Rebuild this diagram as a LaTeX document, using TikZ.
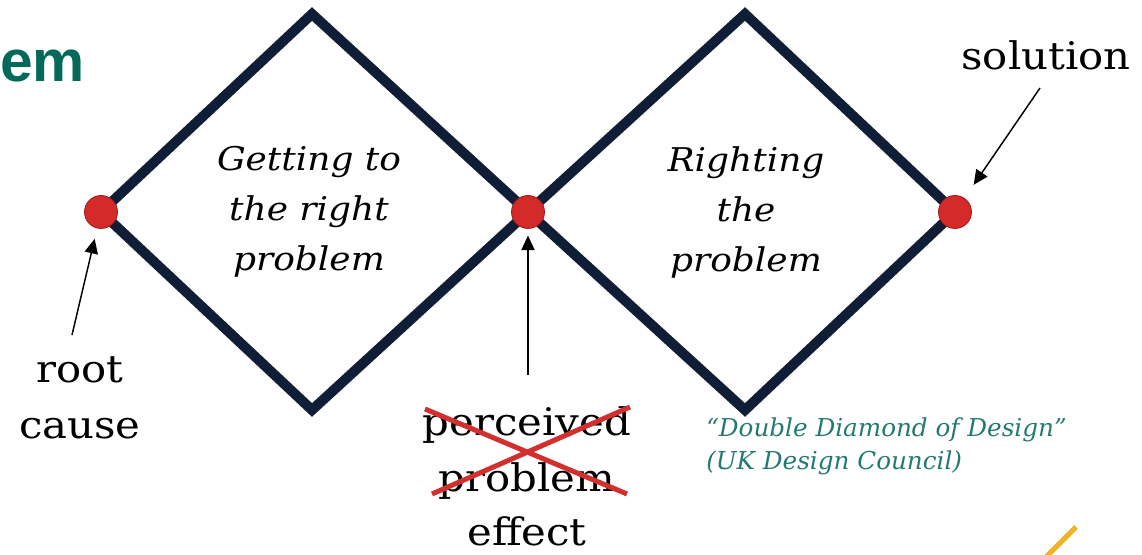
\documentclass[tikz,border=0pt]{standalone}
\usepackage{fontspec}
\setmainfont{DejaVu Serif}[FakeStretch=1.1]
\newfontfamily\notefont{DejaVu Serif}
\newfontfamily\headfont{Liberation Sans}
\usetikzlibrary{arrows.meta,calc}

\definecolor{navy}{HTML}{0F1E36}
\definecolor{dotred}{HTML}{D42A2A}
\definecolor{dotedge}{HTML}{A01C1C}
\definecolor{crossred}{HTML}{D2302F}
\definecolor{noteteal}{HTML}{247A70}
\definecolor{headteal}{HTML}{05695A}
\definecolor{accent}{HTML}{F0B323}

\tikzset{
	frame/.style={draw=navy, line width=7.5pt, line join=miter},
	dot/.style={circle, fill=dotred, draw=dotedge, line width=0.6pt,
			minimum size=24.75pt, inner sep=0pt},
	pointer/.style={-{Triangle[length=11pt,width=10pt]}, line width=1.1pt},
	lbl/.style={font=\fontsize{28.5}{42}\selectfont, align=center, inner sep=0pt},
	phase/.style={font=\fontsize{24.5}{37.5}\selectfont\itshape, align=center, inner sep=0pt},
	cross/.style={draw=crossred, line width=3.75pt}
}

\begin{document}
\begin{tikzpicture}[x=0.75pt, y=-0.75pt]

	\useasboundingbox (0,0) rectangle (1142,555);

	% Title fragment
	\node[font=\headfont\fontsize{44}{44}\selectfont\bfseries, text=headteal,
		anchor=base west, inner sep=0pt] (head) at (0,82) {em};

	% Corners of the two diamonds
	\coordinate (l)  at (101,212);
	\coordinate (t1) at (312,14);
	\coordinate (m)  at (528,212);
	\coordinate (b1) at (312,410);
	\coordinate (t2) at (745,14);
	\coordinate (r)  at (955,212);
	\coordinate (b2) at (745,410);

	% Draw the diamonds
	\draw[frame] (l) -- (t1) -- (m) -- (b1) -- cycle;
	\draw[frame] (m) -- (t2) -- (r) -- (b2) -- cycle;

	% Points where the diamonds meet
	\node[dot] (rootdot) at (l) {};
	\node[dot] (middot) at (m) {};
	\node[dot] (soldot) at (r) {};

	% Phase names
	\node[phase] (getting) at (309,212) {Getting to\\the right\\problem};
	\node[phase] (righting) at (746,212) {Righting\\the\\problem};

	% Labels around the points
	\node[lbl] (cause) at (80,398) {root\\cause};
	\node[lbl] (perceived) at (527,453) {perceived\\problem};
	\node[lbl, anchor=base] (effect) at (527,545) {effect};
	\node[lbl, anchor=base] (solution) at (1046,70) {solution};

	% Cross out the perceived problem
	\draw[cross] ($(perceived.center)+(-102,-44)$) -- ($(perceived.center)+(100,41)$);
	\draw[cross] ($(perceived.center)+(-95,41)$) -- ($(perceived.center)+(103,-46)$);

	% Arrows to the points
	\coordinate (causetail) at (72,335);
	\coordinate (midtail) at (528,375);
	\coordinate (soltail) at (1040,88);
	\draw[pointer, shorten >=8pt] (causetail) -- (rootdot);
	\draw[pointer, shorten >=5pt] (midtail) -- (middot);
	\draw[pointer, shorten >=12pt] (soltail) -- (soldot);

	% Source note
	\node[font=\notefont\itshape\fontsize{18.5}{24.75}\selectfont, text=noteteal,
		align=left, anchor=base west, inner sep=0pt] (source) at (706,470)
		{“Double Diamond of Design”\\(UK Design Council)};

	% Accent stroke in the corner
	\draw[accent, line width=3.75pt] (1043,560) -- (1076,527);

\end{tikzpicture}
\end{document}
